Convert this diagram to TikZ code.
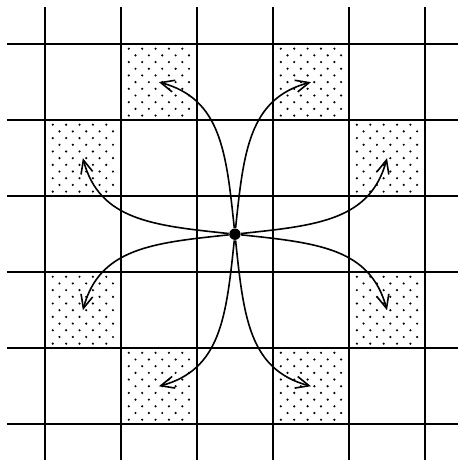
\documentclass[tikz,border=0pt]{standalone}
\usepackage{tikz}
\usetikzlibrary{arrows.meta}
\tikzset{grid/.style={line width=0.75pt}}
\tikzset{hop/.style={line width=0.6pt, -{Straight Barb[length=5pt,width=4.5pt]}}}
\tikzset{hub/.style={circle, fill, inner sep=0pt, minimum size=0.15cm}}
\newcommand{\dotcell}[2]{\foreach \i in {0,...,10} \foreach \k in {0,...,4} \fill ({#1-0.396+(mod(\i,2)+2*\k)*0.088},{#2+0.44-\i*0.088}) circle (0.45pt);}

\begin{document}
\begin{tikzpicture}
\useasboundingbox (-3.09,-2.97) rectangle (2.93,3.08);
\dotcell{-1}{2}
\dotcell{1}{2}
\dotcell{-2}{1}
\dotcell{2}{1}
\dotcell{-2}{-1}
\dotcell{2}{-1}
\dotcell{-1}{-2}
\dotcell{1}{-2}
\foreach \x in {-2.5,-1.5,...,2.5} \draw[grid] (\x,-2.97) -- (\x,2.99);
\foreach \y in {-2.5,-1.5,...,2.5} \draw[grid] (-3.0,\y) -- (2.93,\y);
\node[hub] (c) at (0,0) {};
\coordinate (nw) at (-1,2);
\coordinate (ne) at (1,2);
\coordinate (wn) at (-2,1);
\coordinate (en) at (2,1);
\coordinate (ws) at (-2,-1);
\coordinate (es) at (2,-1);
\coordinate (sw) at (-1,-2);
\coordinate (se) at (1,-2);
\draw[hop] (c) to[out=96,in=-15,out looseness=1.2] (nw);
\draw[hop] (c) to[out=84,in=195,out looseness=1.2] (ne);
\draw[hop] (c) to[out=174,in=-75,out looseness=1.2] (wn);
\draw[hop] (c) to[out=6,in=255,out looseness=1.2] (en);
\draw[hop] (c) to[out=186,in=75,out looseness=1.2] (ws);
\draw[hop] (c) to[out=-6,in=105,out looseness=1.2] (es);
\draw[hop] (c) to[out=264,in=15,out looseness=1.2] (sw);
\draw[hop] (c) to[out=276,in=165,out looseness=1.2] (se);
\end{tikzpicture}
\end{document}
